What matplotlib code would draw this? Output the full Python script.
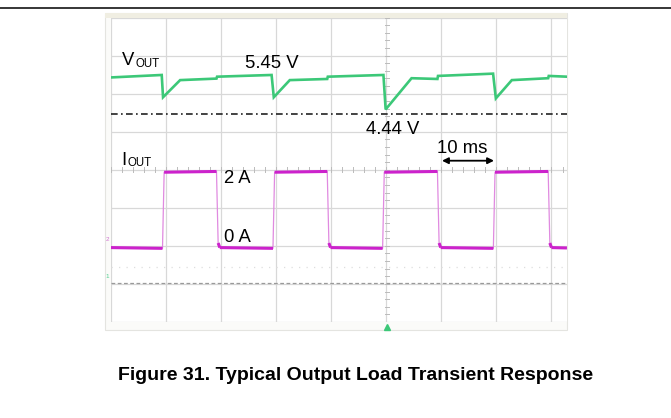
import matplotlib
matplotlib.use("Agg")
import matplotlib.pyplot as plt
from matplotlib.patches import Rectangle
from matplotlib.lines import Line2D

plt.rcParams['font.family'] = ['Liberation Sans', 'DejaVu Sans']

# Output voltage trace (time in ms, volts)
vout_t = [0.0, 9.26, 9.5, 12.6, 19.2, 19.3, 29.2, 29.6, 32.5, 39.3, 39.4,
          49.5, 49.9, 54.6, 59.3, 59.4, 69.4, 69.9, 72.8, 79.4, 79.5, 82.8]
vout_v = [5.40, 5.465, 4.88, 5.33, 5.37, 5.42, 5.465, 4.88, 5.33, 5.36, 5.42,
          5.465, 4.56, 5.38, 5.36, 5.44, 5.50, 4.85, 5.33, 5.38, 5.44, 5.42]

# Output current trace (time in ms, amps)
iout_t = [0.0, 9.4, 9.7, 19.2, 19.5, 19.8, 29.45, 29.75, 39.3, 39.6, 39.9,
          49.35, 49.65, 59.3, 59.6, 59.9, 69.45, 69.75, 79.4, 79.7, 80.0, 82.8]
iout_a = [0.0, -0.02, 1.98, 2.0, 0.12, 0.0, -0.02, 1.98, 2.0, 0.12, 0.0,
          -0.02, 1.98, 2.0, 0.12, 0.0, -0.02, 1.98, 2.0, 0.12, 0.0, -0.01]

v_min_label = 4.44
grid_times = [0, 10, 20, 30, 40, 50, 60, 70, 80]
grid_divs = [0, 1, 2, 3, 4, 5, 6, 7, 8]

W, H = 671, 418
fig = plt.figure(figsize=(W / 100, H / 100), dpi=100)


def fx(px):
    return px / W


def fy(py):
    return 1 - py / H


# scope screen frame
fig.patches.append(Rectangle((fx(105), fy(330)), fx(566.7) - fx(105), fy(13) - fy(330),
                             transform=fig.transFigure, facecolor='#fbfbf9',
                             edgecolor='#e4e4e0', lw=0.8, zorder=-2))
fig.patches.append(Rectangle((fx(105), fy(17.5)), fx(566.7) - fx(105), fy(13) - fy(17.5),
                             transform=fig.transFigure, facecolor='#f0eee2',
                             edgecolor='none', zorder=-1))
# top rule
fig.lines.append(Line2D([0, 1], [fy(7.5), fy(7.5)], transform=fig.transFigure,
                        color='black', lw=1.1))

ax = fig.add_axes([fx(110.7), fy(322), fx(566.7) - fx(110.7), fy(17.5) - fy(322)])
ax.set_xlim(0, 82.76)
ax.set_ylim(0, 8)
ax.set_facecolor('white')
for s in ax.spines.values():
    s.set_visible(False)
ax.set_xticks([])
ax.set_yticks([])

grid_c = '#d8d8d8'
for t in grid_times:
    ax.axvline(t, color=grid_c, lw=0.9, zorder=1)
for d in grid_divs:
    ax.axhline(d, color=grid_c, lw=0.9, zorder=1)

# minor ticks on centre lines
for k in range(0, 42):
    xt = k * 2
    ax.plot([xt, xt], [3.94, 4.06], color='#bbbbbb', lw=0.7, zorder=1)
for k in range(0, 41):
    yt = k * 0.2
    ax.plot([49.7, 50.5], [yt, yt], color='#bbbbbb', lw=0.7, zorder=1)

# reference lines
ax.axhline(1.02, color='#9a9a9a', lw=0.9, ls=(0, (3, 2)), zorder=2)
ax.axhline(1.45, color='#dedede', lw=0.9, ls=(0, (1, 5)), zorder=2)
ax.plot([50.1], [-0.12], marker='^', color='#3cc878', ms=5, clip_on=False, zorder=5)

axv = ax.twinx()
axv.set_ylim(-1.025, 8 - 1.025)
axv.set_axis_off()
axv.axhline(v_min_label, color='#222222', lw=1.2, ls=(0, (4, 2, 1, 2)))
axv.plot(vout_t, vout_v, color='#3cc878', lw=1.9, solid_joinstyle='miter')

axi = ax.twinx()
axi.set_ylim(-1.955, 8 - 1.955)
axi.set_axis_off()
axi.plot(iout_t, iout_a, color='#e08ae0', lw=0.9)
for i in range(len(iout_t) - 1):
    if abs(iout_a[i + 1] - iout_a[i]) < 0.5:
        axi.plot(iout_t[i:i + 2], iout_a[i:i + 2], color='#cc22cc', lw=2.2,
                 solid_capstyle='butt')

# labels
fs = 13.3
fig.text(fx(121.7), fy(65), 'V', fontsize=fs, va='baseline')
fig.text(fx(136), fy(66.7), 'OUT', fontsize=8.3, va='baseline')
fig.text(fx(121.6), fy(165), 'I', fontsize=fs, va='baseline')
fig.text(fx(127), fy(166.5), 'OUT', fontsize=8.3, va='baseline')
fig.text(fx(245), fy(68.3), '5.45 V', fontsize=fs, va='baseline')
fig.text(fx(366), fy(134), '4.44 V', fontsize=fs, va='baseline')
fig.text(fx(437.3), fy(152.7), '10 ms', fontsize=fs, va='baseline')
fig.text(fx(223.5), fy(183.3), '2 A', fontsize=fs, va='baseline')
fig.text(fx(223.5), fy(241.7), '0 A', fontsize=fs, va='baseline')
ax.annotate('', xy=(fx(494), fy(160.7)), xytext=(fx(442), fy(160.7)),
            xycoords='figure fraction', textcoords='figure fraction',
            arrowprops=dict(arrowstyle='<|-|>', color='black', lw=1.3,
                            mutation_scale=9, shrinkA=0, shrinkB=0))
fig.text(fx(107.5), fy(239), '2', fontsize=4.5, color='#d070d0', ha='center', va='center')
fig.text(fx(107.5), fy(276), '1', fontsize=4.5, color='#50d090', ha='center', va='center')

fig.text(fx(356), fy(380), 'Figure 31. Typical Output Load Transient Response',
         fontsize=14, fontweight='bold', ha='center', va='baseline')

fig.savefig('out.png', dpi=100)
